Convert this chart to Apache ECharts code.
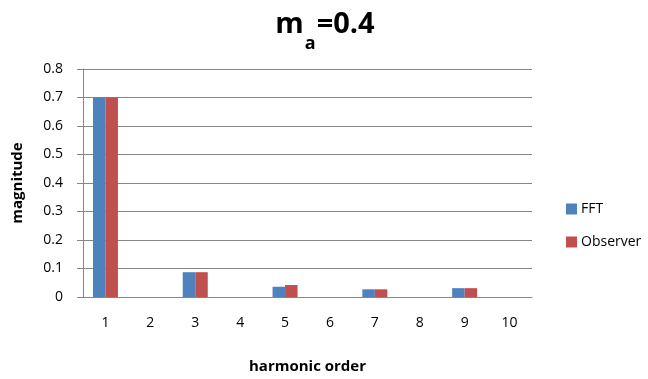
<!DOCTYPE html>
<html><head><meta charset="utf-8">
<script src="https://cdn.jsdelivr.net/npm/echarts@6/dist/echarts.min.js"></script>
<style>html,body{margin:0;padding:0;background:#fff}#c{width:648px;height:379px}</style>
</head><body><div id="c"></div>
<script>
const categories = ['1','2','3','4','5','6','7','8','9','10'];
const fftValues = [0.70, 0, 0.087, 0, 0.036, 0, 0.027, 0, 0.031, 0];
const observerValues = [0.70, 0, 0.087, 0, 0.042, 0, 0.027, 0, 0.031, 0];
const yTicks = [0, 0.1, 0.2, 0.3, 0.4, 0.5, 0.6, 0.7, 0.8];

const chart = echarts.init(document.getElementById('c'));
const font = 'Open Sans, Liberation Sans, sans-serif';
chart.setOption({
  animation: false,
  title: {
    text: '{m|m}{s|a}{m|=0.4}',
    left: 320, top: 5, textAlign: 'center',
    textStyle: {
      rich: {
        m: {fontSize: 29, fontWeight: 'bold', fontFamily: font, color: '#000', lineHeight: 35, verticalAlign: 'top'},
        s: {fontSize: 18, fontFamily: font, color: '#000', lineHeight: 18, verticalAlign: 'top', padding: [25, 1, 0, 1]}
      }
    }
  },
  legend: {
    orient: 'vertical', left: 561, top: 197, itemGap: 19,
    itemWidth: 11, itemHeight: 11, icon: 'rect',
    textStyle: {fontSize: 14, fontFamily: font, color: '#000', padding: [0, 0, 0, -1]}
  },
  grid: {left: 83, right: 116, top: 69, bottom: 81, containLabel: false},
  xAxis: {
    type: 'category', data: categories,
    name: 'harmonic order', nameLocation: 'middle', nameGap: 62,
    nameTextStyle: {fontSize: 15, fontWeight: 'bold', fontFamily: font, color: '#000'},
    axisLine: {lineStyle: {color: '#868686'}},
    axisTick: {show: false},
    axisLabel: {fontSize: 14, fontFamily: font, color: '#000', margin: 19}
  },
  yAxis: {
    type: 'value', min: 0, max: 0.8, interval: 0.1,
    name: 'magnitude', nameLocation: 'middle', nameGap: 58, nameRotate: 90,
    nameTextStyle: {fontSize: 15, fontWeight: 'bold', fontFamily: font, color: '#000'},
    axisLine: {show: true, lineStyle: {color: '#868686'}},
    axisTick: {show: true, length: 6, lineStyle: {color: '#868686'}},
    splitLine: {lineStyle: {color: '#868686'}},
    axisLabel: {fontSize: 14, fontFamily: font, color: '#000', margin: 20,
      formatter: v => { const t = yTicks.find(x => Math.abs(x - v) < 1e-9); return t === undefined ? '' : String(t); }}
  },
  series: [
    {name: 'FFT', type: 'bar', data: fftValues, barWidth: 12.5, barGap: '0%', itemStyle: {color: '#4F81BD'}},
    {name: 'Observer', type: 'bar', data: observerValues, barWidth: 12.5, itemStyle: {color: '#C0504D'}}
  ]
});
</script></body></html>
